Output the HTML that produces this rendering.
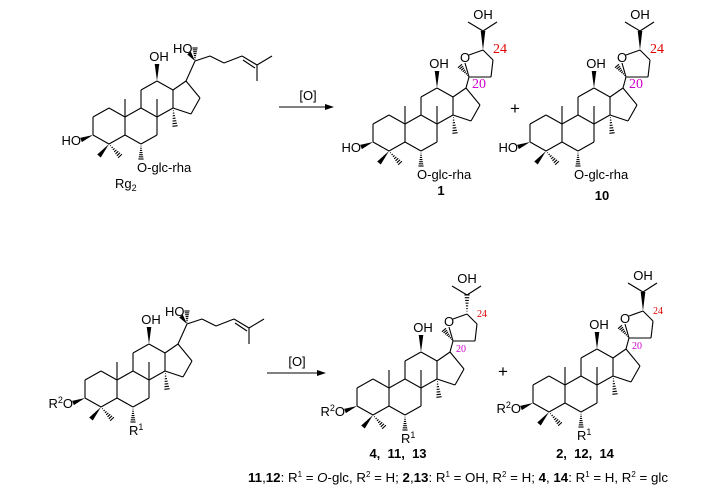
<!DOCTYPE html>
<html><head><meta charset="utf-8"><style>
html,body{margin:0;padding:0;background:#fff;width:704px;height:491px;overflow:hidden}
svg{display:block}
</style></head><body>
<svg id="s" width="704" height="491" viewBox="0 0 704 491" xmlns="http://www.w3.org/2000/svg" font-family="Liberation Sans, sans-serif" font-size="13" fill="#000">
<g id="g" stroke="#000" stroke-width="1.1" fill="none"></g>
<g id="t"></g>
<line x1="279" y1="107" x2="328" y2="107" stroke="#000" stroke-width="1.1"/>
<polygon points="334,107 325,104 325,110" fill="#000"/>
<text x="308" y="100" text-anchor="middle">[O]</text>
<line x1="267" y1="373" x2="320" y2="373" stroke="#000" stroke-width="1.1"/>
<polygon points="326,373 317,370 317,376" fill="#000"/>
<text x="297" y="366" text-anchor="middle">[O]</text>
<text x="515" y="114" text-anchor="middle" font-size="17">+</text>
<text x="503" y="377" text-anchor="middle" font-size="17">+</text>
<text x="441" y="195" text-anchor="middle" font-weight="bold">1</text>
<text x="602" y="200" text-anchor="middle" font-weight="bold">10</text>
<text x="398" y="458" text-anchor="middle" font-weight="bold">4,&#160;&#160;11,&#160;&#160;13</text>
<text x="585" y="458" text-anchor="middle" font-weight="bold">2,&#160;&#160;12,&#160;&#160;14</text>
<text x="248" y="482" font-size="13.3"><tspan font-weight="bold">11</tspan>,<tspan font-weight="bold">12</tspan>: R<tspan font-size="8" dy="-5">1</tspan><tspan dy="5"> = </tspan><tspan font-style="italic">O</tspan>-glc, R<tspan font-size="8" dy="-5">2</tspan><tspan dy="5">  = H;  </tspan><tspan font-weight="bold">2</tspan>,<tspan font-weight="bold">13</tspan>: R<tspan font-size="8" dy="-5">1</tspan><tspan dy="5"> =  OH, R</tspan><tspan font-size="8" dy="-5">2</tspan><tspan dy="5"> = H;  </tspan><tspan font-weight="bold">4</tspan>, <tspan font-weight="bold">14</tspan>: R<tspan font-size="8" dy="-5">1</tspan><tspan dy="5"> = H, R</tspan><tspan font-size="8" dy="-5">2</tspan><tspan dy="5"> = glc</tspan></text>
</svg>
<script>
var G=document.getElementById('g'),T=document.getElementById('t'),NS="http://www.w3.org/2000/svg";
function el(p,n,a,txt){var e=document.createElementNS(NS,n);for(var k in a)e.setAttribute(k,a[k]);if(txt!=null)e.innerHTML=txt;p.appendChild(e);return e;}
function L(a,b){el(G,'line',{x1:a[0],y1:a[1],x2:b[0],y2:b[1]});}
function W(a,b){var dx=b[0]-a[0],dy=b[1]-a[1],l=Math.hypot(dx,dy),nx=-dy/l*2.3,ny=dx/l*2.3;
 el(G,'polygon',{points:a[0]+','+a[1]+' '+(b[0]+nx)+','+(b[1]+ny)+' '+(b[0]-nx)+','+(b[1]-ny),fill:'#000',stroke:'none'});}
function H(a,b){var dx=b[0]-a[0],dy=b[1]-a[1],l=Math.hypot(dx,dy),n=7;for(var i=1;i<=n;i++){var f=i/n,w=f*2.6,cx=a[0]+dx*f,cy=a[1]+dy*f,nx=-dy/l*w,ny=dx/l*w;L([cx+nx,cy+ny],[cx-nx,cy-ny]);}}
function TX(x,y,s,o){o=o||{};var a={x:x,y:y};for(var k in o)a[k]=o[k];el(T,'text',a,s);}
function sk(X,Y,opt){
 var s=18,h=16;function p(x,y){return [X+x,Y+y];}
 var C3=p(0,0),C2=p(0,-s),C1=p(h,-1.5*s),C10=p(2*h,-s),C5=p(2*h,0),C4=p(h,.5*s),
 C9=p(3*h,-1.5*s),C8=p(4*h,-s),C7=p(4*h,0),C6=p(3*h,.5*s),C11=p(3*h,-2.5*s),C12=p(4*h,-3*s),C13=p(5*h,-2.5*s),C14=p(5*h,-1.5*s),
 C17=[C13[0]+13,C13[1]-9],C16=[C13[0]+27,C13[1]+8],C15=[C14[0]+18,C14[1]+6];
 [[C3,C2],[C2,C1],[C1,C10],[C10,C5],[C5,C4],[C4,C3],[C10,C9],[C9,C8],[C8,C7],[C7,C6],[C6,C5],[C9,C11],[C11,C12],[C12,C13],[C13,C14],[C14,C8],[C13,C17],[C17,C16],[C16,C15],[C15,C14]].forEach(function(e){L(e[0],e[1]);});
 L(C10,p(2*h,-2*s));L(C8,p(4*h,-2*s));H(C14,[C14[0]+2,C14[1]+18]);
 W(C12,[C12[0],C12[1]-17]);TX(C12[0]+2,C12[1]-20,'OH',{'text-anchor':'middle'});
 W(C3,[C3[0]-12,C3[1]+5]);TX(C3[0]-12,C3[1]+10,opt.r3,{'text-anchor':'end'});
 W(C4,[C4[0]-10,C4[1]+12]);H(C4,[C4[0]+11,C4[1]+12]);
 H(C6,[C6[0],C6[1]+15]);TX(C6[0]-4,C6[1]+28,opt.r6);
 if(opt.chain){var C20=[C17[0]+9,C17[1]-20];L(C17,C20);
  W(C20,[C20[0]-6,C20[1]-8]);H(C20,[C20[0],C20[1]-13]);TX(C20[0]-22,C20[1]-8,'HO');
  var pts=[[15,-5],[29,2],[47,-5],[62,4],[77,-5]],prev=C20;
  pts.forEach(function(q){var n=[C20[0]+q[0],C20[1]+q[1]];L(prev,n);prev=n;});
  var a=[C20[0]+47,C20[1]-5],b=[C20[0]+62,C20[1]+4];L([a[0]+1,a[1]+4],[b[0]-2,b[1]+3]);
  L(b,[C20[0]+62,C20[1]+20]);
 } else {
  var C20=[C17[0]+3,C17[1]-11];L(C17,C20);
  var O=[C20[0]-5,C20[1]-19],C24=[C20[0]+14,C20[1]-27],C23=[C20[0]+24,C20[1]-17],C22=[C20[0]+22,C20[1]];
  L(C20,[O[0]+1,O[1]+5]);L([O[0]+5,O[1]-3],C24);L(C24,C23);L(C23,C22);L(C22,C20);
  TX(O[0]-4,O[1]+4,'O');
  H(C20,[C20[0]-9,C20[1]-11]);
  var C25=[C24[0],C24[1]-19];
  if(opt.h24)H(C24,C25);else W(C24,C25);
  L(C25,[C25[0]-15,C25[1]-9]);L(C25,[C25[0]+14,C25[1]-9]);
  TX(C25[0],C25[1]-12,'OH',{'text-anchor':'middle'});
  TX(C24[0]+10,C24[1]+3,'24',{fill:'#e00000','font-family':'Liberation Serif, serif','font-size':opt.sm?'10':'14'});
  TX(C20[0]+3,C20[1]+11,'20',{fill:'#d000d0','font-family':'Liberation Serif, serif','font-size':opt.sm?'10':'14'});
 }
}
sk(93,135,{chain:1,r3:'HO',r6:'O-glc-rha'});
TX(115,188,'Rg<tspan font-size="9" dy="3">2</tspan>');
sk(373,142,{r3:'HO',r6:'O-glc-rha'});
sk(530,142,{r3:'HO',r6:'O-glc-rha'});
sk(85,398,{chain:1,r3:'R<tspan font-size="9" dy="-5">2</tspan><tspan dy="5">O</tspan>',r6:'R<tspan font-size="9" dy="-5">1</tspan>'});
sk(357,406,{r3:'R<tspan font-size="9" dy="-5">2</tspan><tspan dy="5">O</tspan>',r6:'R<tspan font-size="9" dy="-5">1</tspan>',h24:1,sm:1});
sk(533,403,{r3:'R<tspan font-size="9" dy="-5">2</tspan><tspan dy="5">O</tspan>',r6:'R<tspan font-size="9" dy="-5">1</tspan>',sm:1});
</script>
</body></html>
